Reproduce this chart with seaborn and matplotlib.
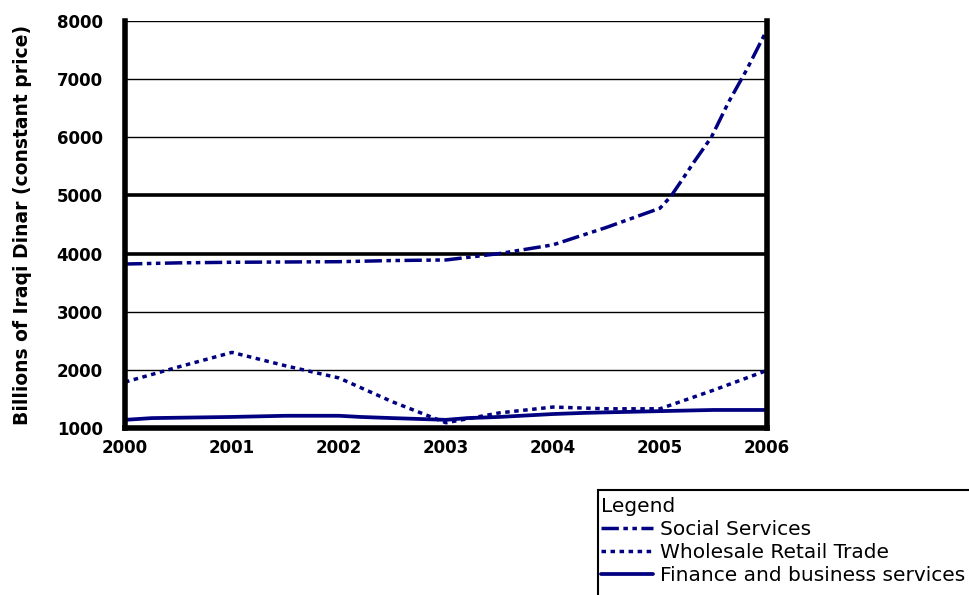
import numpy as np
import pandas as pd

import matplotlib.pyplot as plt
import matplotlib.patches as mpatches
import seaborn as sns

# Values
years_social = [2000, 2000.5, 2001, 2001.5, 2002, 2002.5, 2003, 2003.5, 2004, 2004.5, 2005,
                2005.1, 2005.2, 2005.32, 2005.48, 2005.64, 2005.81, 2006]
social = [3820, 3840, 3850, 3855, 3860, 3880, 3890, 4000, 4150, 4450, 4780,
          4980, 5250, 5580, 6000, 6600, 7160, 7850]

years_trade = [2000, 2000.5, 2001, 2001.5, 2002, 2002.5, 2003, 2003.5, 2004, 2004.5, 2005, 2005.5, 2006]
trade = [1790, 2050, 2300, 2070, 1860, 1450, 1090, 1260, 1360, 1330, 1330, 1650, 1990]

years_fin = [2000, 2000.25, 2001, 2001.5, 2002, 2002.2, 2002.5, 2003, 2003.2, 2003.5, 2004, 2004.3, 2005, 2005.5, 2006]
finance = [1140, 1170, 1190, 1210, 1210, 1190, 1170, 1140, 1170, 1190, 1240, 1260, 1290, 1310, 1310]

names = ['Social Services', 'Wholesale Retail Trade', 'Finance and business services']
year_ticks = [2000, 2001, 2002, 2003, 2004, 2005, 2006]
value_ticks = [1000, 2000, 3000, 4000, 5000, 6000, 7000, 8000]

sns.set_style('white')
plt.rcParams['font.family'] = ['DejaVu Sans']
plt.rcParams['text.color'] = 'black'
plt.rcParams['axes.labelcolor'] = 'black'
plt.rcParams['xtick.color'] = 'black'
plt.rcParams['ytick.color'] = 'black'

fig = plt.figure(figsize=(9.69, 5.95), dpi=100)
ax = fig.add_axes([0.129, 0.2807, 0.6625, 0.684])

navy = '#000080'
df_s = pd.DataFrame({'Year': years_social, 'Value': social})
df_t = pd.DataFrame({'Year': years_trade, 'Value': trade})
df_f = pd.DataFrame({'Year': years_fin, 'Value': finance})

sns.lineplot(data=df_s, x='Year', y='Value', ax=ax, color=navy, lw=2.5,
             linestyle=(0, (5, 1.3, 1.3, 1.3, 1.3, 1.3)), label=names[0])
sns.lineplot(data=df_t, x='Year', y='Value', ax=ax, color=navy, lw=2.5,
             linestyle=(0, (1.3, 1.3)), label=names[1])
sns.lineplot(data=df_f, x='Year', y='Value', ax=ax, color=navy, lw=2.7,
             linestyle='-', label=names[2])

ax.set_xlim(2000, 2006)
ax.set_ylim(1000, 8000)
ax.set_xticks(year_ticks)
ax.set_yticks(value_ticks)
ax.set_xticklabels([str(y) for y in year_ticks], fontsize=12, fontweight='bold')
ax.set_yticklabels([str(v) for v in value_ticks], fontsize=12, fontweight='bold')

# horizontal gridlines, 4000 and 5000 drawn heavier
for v in value_ticks[1:]:
    ax.axhline(v, color='black', lw=2.6 if v in (4000, 5000) else 1.0, zorder=0.5)

ax.tick_params(axis='x', direction='in', length=7, width=1.5, pad=8)
ax.tick_params(axis='y', length=0, pad=16)
ax.spines['top'].set_visible(False)
for side in ('left', 'right', 'bottom'):
    ax.spines[side].set_linewidth(4)
    ax.spines[side].set_color('black')

ax.set_xlabel('')
ax.set_ylabel('Billions of Iraqi Dinar (constant price)', fontsize=13.5, fontweight='bold', labelpad=18)

leg = ax.legend(title='Legend', loc='upper left', bbox_to_anchor=(601 / 969, 1 - 497 / 595),
                bbox_transform=fig.transFigure, frameon=False,
                fontsize=14.5, title_fontsize=14.5, handlelength=2.6, handletextpad=0.35,
                labelspacing=0.2, borderpad=0.0, alignment='left', borderaxespad=0)

# legend box: left and top edges show, the rest runs off the figure
fig.add_artist(mpatches.Rectangle((598 / 969, -0.1), 0.5, 1 - 490 / 595 + 0.1,
                                  transform=fig.transFigure, fill=False,
                                  edgecolor='black', lw=1.5))

fig.savefig('out.png', dpi=100)
